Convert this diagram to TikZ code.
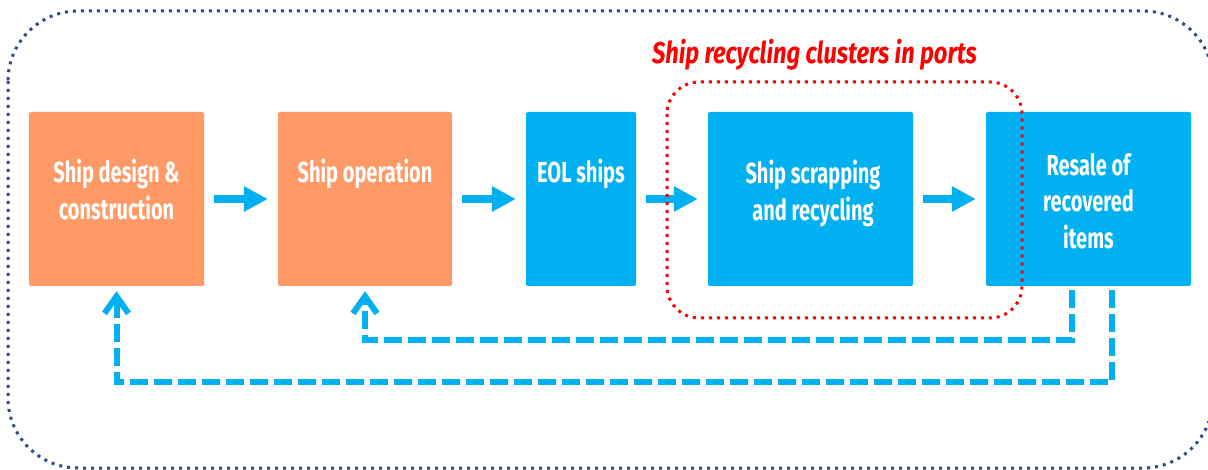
\documentclass[tikz,border=0pt]{standalone}
\usepackage{fontspec}
\usepackage{tikz}
\usetikzlibrary{arrows.meta}
\newfontfamily\condfont[FakeStretch=0.69]{Fira Sans}
\newfontfamily\titlefont[FakeStretch=0.79]{Fira Sans}
\definecolor{shiporange}{HTML}{FF9966}
\definecolor{shipblue}{HTML}{00B0F0}
\definecolor{frameblue}{HTML}{2F4B8C}

\begin{document}
\begin{tikzpicture}[x=1pt,y=-1pt,
  box/.style={rectangle,rounded corners=2pt,minimum height=174pt,inner sep=0pt},
  orangebox/.style={box,fill=shiporange},
  bluebox/.style={box,fill=shipblue},
  boxtext/.style={anchor=north,inner sep=0pt,align=center,text=white,font=\condfont\bfseries\fontsize{29}{36.5}\selectfont},
  flow/.style={draw=shipblue,line width=7.5pt,-{Triangle[length=24pt,width=24pt]},shorten <=10pt,shorten >=10pt},
  feedback/.style={draw=shipblue,line width=6pt,dash pattern=on 18pt off 6pt,-{Straight Barb[length=17pt,width=24pt]},shorten <=4pt,shorten >=5pt},
  dotline/.style={line width=3pt,dash pattern=on 3pt off 5pt}]
  \useasboundingbox (0,0) rectangle (1208,470);
  \clip (0,0) rectangle (1208,470);
  \draw[dotline,frameblue,rounded corners=70pt] (8,11) rectangle (1213,468);
  \node[orangebox,minimum width=175pt] (design) at (116.5,199) {};
  \node[orangebox,minimum width=174pt] (operation) at (365,199) {};
  \node[bluebox,minimum width=110pt] (eol) at (581,199) {};
  \node[bluebox,minimum width=205pt] (scrap) at (810.5,199) {};
  \node[bluebox,minimum width=205pt] (resale) at (1088.5,199) {};
  \node[boxtext] (designtxt) at (116.5,159) {Ship design \&\\construction};
  \node[boxtext] (operationtxt) at (365,159) {Ship operation};
  \node[boxtext] (eoltxt) at (581,159) {EOL ships};
  \node[boxtext] (scraptxt) at (813,160) {Ship scrapping\\and recycling};
  \node[boxtext] (resaletxt) at (1088.5,153) {Resale of\\recovered\\items};
  \draw[flow] (design) -- (operation);
  \draw[flow] (operation) -- (eol);
  \draw[flow] (eol) -- (scrap);
  \draw[flow] (scrap) -- (resale);
  \draw[feedback] ([xshift=-16.5pt]resale.south) -- ++(0,54) -| (operation.south);
  \draw[feedback] ([xshift=23.5pt]resale.south) -- ++(0,96) -| (design.south);
  \draw[dotline,red,rounded corners=32pt] (667,82) rectangle (1022,318);
  \node[anchor=base,text=red,font=\titlefont\bfseries\itshape\fontsize{30}{32}\selectfont] (clustertitle) at (814.5,64) {Ship recycling clusters in ports};
\end{tikzpicture}
\end{document}
